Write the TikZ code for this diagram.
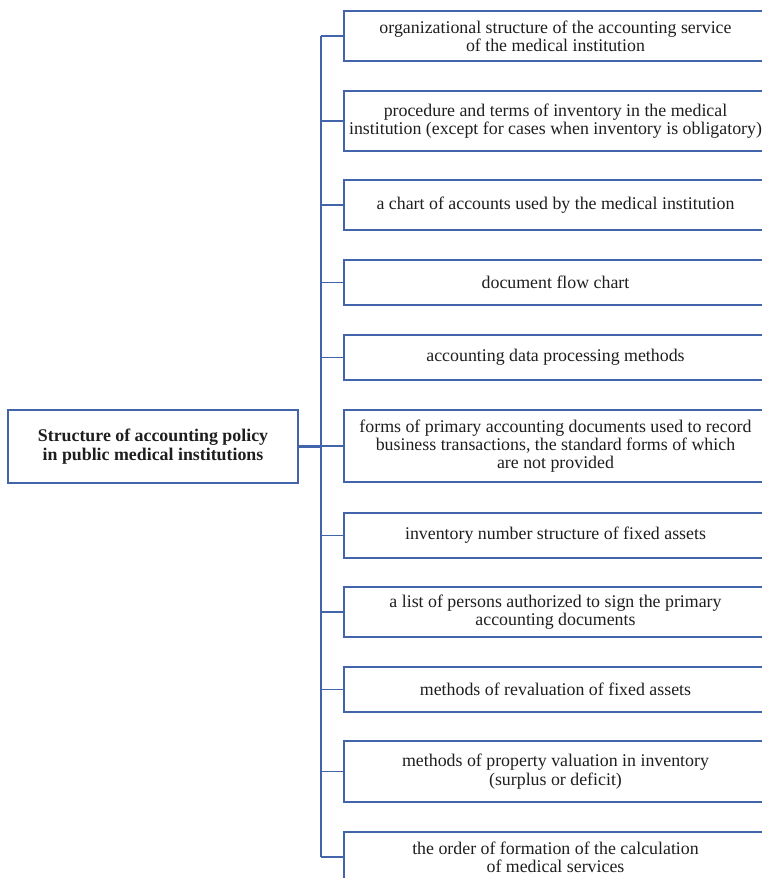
\documentclass[tikz,border=0pt]{standalone}
\usepackage{fontspec}
\setmainfont{Liberation Serif}
\definecolor{boxblue}{RGB}{66,100,170}
\definecolor{txt}{RGB}{30,30,30}
\begin{document}
\begin{tikzpicture}[x=1pt,y=-1pt,
  item/.style={draw=boxblue, line width=2pt, inner sep=0pt, minimum width=423pt,
    anchor=north west, align=center, text=txt,
    font=\fontsize{17.85}{18.3}\selectfont},
  rootbox/.style={draw=boxblue, line width=2pt, inner sep=0pt, minimum width=290pt,
    minimum height=73pt, anchor=north west, align=center, text=txt,
    font=\fontsize{17.85}{18.3}\selectfont\bfseries},
  tick/.style={draw=boxblue, line width=1.5pt},
  trunkline/.style={draw=boxblue, line width=2pt},
  rootline/.style={draw=boxblue, line width=3pt}]
\useasboundingbox (0,0) rectangle (762,878);
\node[rootbox] (root) at (7,409) {Structure of accounting policy\\in public medical institutions};
\node[item, minimum height=50pt] (b1) at (343,10) {organizational structure of the accounting service\\of the medical institution};
\node[item, minimum height=60pt] (b2) at (343,90) {procedure and terms of inventory in the medical\\institution (except for cases when inventory is obligatory)};
\node[item, minimum height=50pt] (b3) at (343,179) {a chart of accounts used by the medical institution};
\node[item, minimum height=45pt] (b4) at (343,259) {document flow chart};
\node[item, minimum height=45pt] (b5) at (343,334) {accounting data processing methods};
\node[item, minimum height=72pt] (b6) at (343,409) {forms of primary accounting documents used to record\\business transactions, the standard forms of which\\are not provided};
\node[item, minimum height=45pt] (b7) at (343,512) {inventory number structure of fixed assets};
\node[item, minimum height=50pt] (b8) at (343,586) {a list of persons authorized to sign the primary\\accounting documents};
\node[item, minimum height=45pt] (b9) at (343,666) {methods of revaluation of fixed assets};
\node[item, minimum height=61pt] (b10) at (343,740) {methods of property valuation in inventory\\(surplus or deficit)};
\node[item, minimum height=50pt] (b11) at (343,831) {the order of formation of the calculation\\of medical services};
\coordinate (trunk) at (321,0);
\draw[trunkline] (b1.west -| trunk) -- (b11.west -| trunk);
\foreach \i in {1,...,11} {
  \draw[tick] (b\i.west -| trunk) -- (b\i.west);
}
\draw[rootline] (root.east) -- (root.east -| trunk);
\end{tikzpicture}
\end{document}
